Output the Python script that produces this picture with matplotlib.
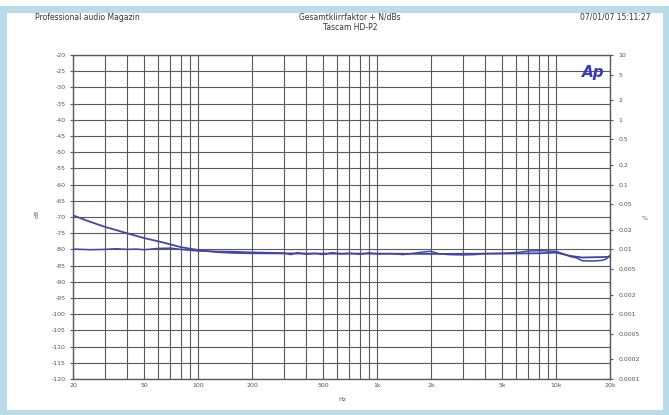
import matplotlib
matplotlib.use("Agg")
import matplotlib.pyplot as plt
from matplotlib.patches import Rectangle
from matplotlib.ticker import FixedLocator, NullFormatter

# THD+N sweep, level in dB
freq_a = [20, 25, 30, 40, 50, 63, 80, 100, 125, 160, 200, 500, 1000, 2000,
          5000, 8000, 10000, 12000, 14000, 20000]
thdn_a = [-69.5, -71.5, -73.0, -75.0, -76.5, -77.8, -79.3, -80.2, -80.8, -81.1,
          -81.2, -81.3, -81.3, -81.4, -81.3, -81.2, -81.0, -82.0, -82.5, -82.3]

freq_b = [20, 25, 30, 35, 40, 45, 50, 60, 70, 80, 100, 125, 160, 200, 250, 300,
          330, 360, 400, 450, 500, 560, 630, 700, 800, 900, 1000, 1200, 1400,
          1600, 1800, 2000, 2200, 2500, 3000, 3500, 4000, 5000, 6000, 7000,
          8000, 9000, 10000, 11000, 12000, 13000, 14000, 16000, 18000, 19000,
          20000]
thdn_b = [-79.9, -80.1, -80.0, -79.8, -80.0, -79.9, -80.1, -79.7, -79.6, -80.0,
          -80.5, -80.6, -80.7, -80.9, -81.0, -81.1, -81.6, -81.0, -81.5, -81.2,
          -81.6, -81.0, -81.4, -81.2, -81.5, -81.1, -81.4, -81.3, -81.6, -81.2,
          -80.8, -80.6, -81.3, -81.6, -81.7, -81.6, -81.3, -81.2, -81.0, -80.5,
          -80.4, -80.5, -80.6, -81.4, -82.2, -82.6, -83.5, -83.6, -83.4, -83.0,
          -81.8]

x_ticks = [20, 50, 100, 200, 500, 1000, 2000, 5000, 10000, 20000]
x_labels = ["20", "50", "100", "200", "500", "1k", "2k", "5k", "10k", "20k"]
db_ticks = list(range(-20, -121, -5))
pct_ticks = [10, 5, 2, 1, 0.5, 0.2, 0.1, 0.05, 0.02, 0.01, 0.005, 0.002,
             0.001, 0.0005, 0.0002, 0.0001]
pct_labels = ["10", "5", "2", "1", "0.5", "0.2", "0.1", "0.05", "0.02", "0.01",
              "0.005", "0.002", "0.001", "0.0005", "0.0002", "0.0001"]

line_col = "#4444a8"
grid_col = "#5a5a5a"
txt_col = "#555555"

fig = plt.figure(figsize=(6.69, 4.15), dpi=100)
fig.patch.set_facecolor("white")

# light blue frame round the picture
fig.patches.append(Rectangle((0.004, 0.004), 0.992, 0.975, transform=fig.transFigure,
                             fill=False, edgecolor="#b9dcea", linewidth=5))

ax = fig.add_axes([73 / 669, 1 - 379 / 415, 537 / 669, 324 / 415])
ax.set_xscale("log")
ax.set_xlim(20, 20000)
ax.set_ylim(-120, -20)

minor = []
for dec in [10, 100, 1000, 10000]:
    for k in range(1, 10):
        f = dec * k
        if 20 <= f <= 20000:
            minor.append(f)
for f in minor:
    ax.axvline(f, color=grid_col, linewidth=0.8, zorder=1)
for d in db_ticks:
    ax.axhline(d, color=grid_col, linewidth=0.8, zorder=1)

ax.plot(freq_a, thdn_a, color=line_col, linewidth=1.3, zorder=3)
ax.plot(freq_b, thdn_b, color=line_col, linewidth=1.1, zorder=3)

ax.xaxis.set_major_locator(FixedLocator(x_ticks))
ax.set_xticklabels(x_labels)
ax.xaxis.set_minor_formatter(NullFormatter())
ax.tick_params(axis="x", which="both", length=0, labelsize=4.5, labelcolor=txt_col, pad=3)
ax.set_yticks(db_ticks)
ax.set_yticklabels([str(d) for d in db_ticks])
ax.tick_params(axis="y", length=2, labelsize=4.5, labelcolor=txt_col, pad=3, color=grid_col)
for s in ax.spines.values():
    s.set_color(grid_col)
    s.set_linewidth(1.0)

ax2 = ax.twinx()
ax2.set_yscale("log")
ax2.set_ylim(0.0001, 10)
ax2.yaxis.set_major_locator(FixedLocator(pct_ticks))
ax2.set_yticklabels(pct_labels)
ax2.yaxis.set_minor_locator(FixedLocator([]))
ax2.tick_params(axis="y", length=2, labelsize=4.5, labelcolor=txt_col, pad=4, color=grid_col)
for s in ax2.spines.values():
    s.set_visible(False)

fig.text(37 / 669, 1 - 214 / 415, "dB", rotation=90, fontsize=4.5, color=txt_col,
         ha="center", va="center")
fig.text(645 / 669, 1 - 218 / 415, "%", fontsize=4.5, color=txt_col,
         ha="center", va="center")
fig.text(342 / 669, 1 - 399 / 415, "Hz", fontsize=4.5, color=txt_col,
         ha="center", va="center")

fig.text(35 / 669, 1 - 17 / 415, "Professional audio Magazin", fontsize=5.5,
         color="#333333", ha="left", va="center")
fig.text(350 / 669, 1 - 17 / 415, "Gesamtklirrfaktor + N/dBs", fontsize=5.5,
         color="#333333", ha="center", va="center")
fig.text(350 / 669, 1 - 28 / 415, "Tascam HD-P2", fontsize=5.5,
         color="#333333", ha="center", va="center")
fig.text(650 / 669, 1 - 17 / 415, "07/01/07 15:11:27", fontsize=5.5,
         color="#333333", ha="right", va="center")

ax.text(0.968, 0.945, "Ap", transform=ax.transAxes, fontsize=11, color="#3a3ab8",
        fontweight="bold", fontstyle="italic", ha="center", va="center", zorder=4)

fig.savefig("out.png", dpi=100)
